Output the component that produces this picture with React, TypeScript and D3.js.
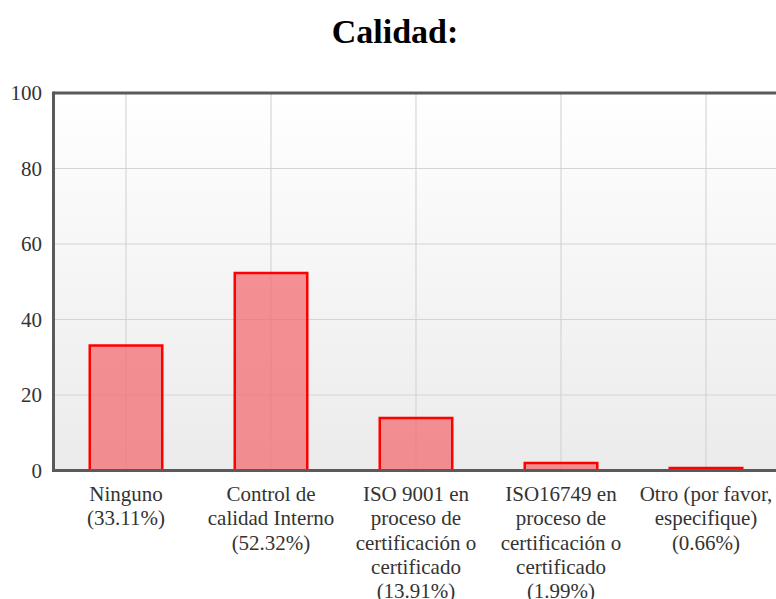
import { useEffect, useRef } from 'react';
import * as d3 from 'd3';

const categories = [
  ['Ninguno', '(33.11%)'],
  ['Control de', 'calidad Interno', '(52.32%)'],
  ['ISO 9001 en', 'proceso de', 'certificación o', 'certificado', '(13.91%)'],
  ['ISO16749 en', 'proceso de', 'certificación o', 'certificado', '(1.99%)'],
  ['Otro (por favor,', 'especifique)', '(0.66%)'],
];
const values = [33.11, 52.32, 13.91, 1.99, 0.66];
const yTicks = [0, 20, 40, 60, 80, 100];

export default function App() {
  const svgRef = useRef<SVGSVGElement>(null);

  useEffect(() => {
    const W = 776;
    const H = 599;
    const left = 53.5;
    const top = 93;
    const bottom = 470.5;
    const step = 145;

    const svg = d3.select(svgRef.current);
    svg.selectAll('*').remove();
    svg.attr('width', W).attr('height', H);

    const font = '"Liberation Serif", "Times New Roman", serif';

    // Title
    svg
      .append('text')
      .attr('x', 395)
      .attr('y', 43)
      .attr('text-anchor', 'middle')
      .style('font-family', font)
      .style('font-weight', 'bold')
      .style('font-size', '34px')
      .style('fill', '#000')
      .text('Calidad:');

    const idx = categories.map((_, i) => i);
    const x = d3
      .scaleBand<number>()
      .domain(idx)
      .range([left, left + step * categories.length])
      .padding(0);
    const y = d3.scaleLinear().domain([0, 100]).range([bottom, top]);

    // Background gradient
    const defs = svg.append('defs');
    const grad = defs
      .append('linearGradient')
      .attr('id', 'bg')
      .attr('x1', 0)
      .attr('y1', 0)
      .attr('x2', 0)
      .attr('y2', 1);
    grad.append('stop').attr('offset', '0%').attr('stop-color', '#ffffff');
    grad.append('stop').attr('offset', '100%').attr('stop-color', '#ebebeb');

    svg
      .append('rect')
      .attr('x', left)
      .attr('y', top)
      .attr('width', W - left + 10)
      .attr('height', bottom - top)
      .attr('fill', 'url(#bg)');

    // Horizontal grid
    svg
      .selectAll('.hgrid')
      .data(yTicks.filter((t) => t > 0 && t < 100))
      .enter()
      .append('line')
      .attr('x1', left)
      .attr('x2', W + 10)
      .attr('y1', (d) => y(d))
      .attr('y2', (d) => y(d))
      .attr('stroke', '#d4d4d4')
      .attr('stroke-width', 1);

    // Vertical grid at category centers
    svg
      .selectAll('.vgrid')
      .data(idx)
      .enter()
      .append('line')
      .attr('x1', (d) => x(d)! + x.bandwidth() / 2)
      .attr('x2', (d) => x(d)! + x.bandwidth() / 2)
      .attr('y1', top)
      .attr('y2', bottom)
      .attr('stroke', '#cfcfcf')
      .attr('stroke-width', 1);

    // Bars
    const bw = x.bandwidth() / 2;
    svg
      .selectAll('.bar')
      .data(values)
      .enter()
      .append('rect')
      .attr('x', (_, i) => x(i)! + x.bandwidth() / 2 - bw / 2)
      .attr('y', (d) => y(d))
      .attr('width', bw)
      .attr('height', (d) => bottom - y(d))
      .attr('fill', 'rgba(243, 110, 114, 0.75)')
      .attr('stroke', '#ff0000')
      .attr('stroke-width', 2.5);

    // Border lines (left, top, bottom)
    const border = '#5a5a5a';
    svg
      .append('line')
      .attr('x1', left)
      .attr('x2', left)
      .attr('y1', top - 1.5)
      .attr('y2', bottom + 1.5)
      .attr('stroke', border)
      .attr('stroke-width', 3);
    svg
      .append('line')
      .attr('x1', left)
      .attr('x2', W + 10)
      .attr('y1', top)
      .attr('y2', top)
      .attr('stroke', border)
      .attr('stroke-width', 3);
    svg
      .append('line')
      .attr('x1', left)
      .attr('x2', W + 10)
      .attr('y1', bottom)
      .attr('y2', bottom)
      .attr('stroke', border)
      .attr('stroke-width', 3);

    // Y tick labels
    svg
      .selectAll('.ytick')
      .data(yTicks)
      .enter()
      .append('text')
      .attr('x', 42)
      .attr('y', (d) => y(d) + 7)
      .attr('text-anchor', 'end')
      .style('font-family', font)
      .style('font-size', '21px')
      .style('fill', '#333')
      .text((d) => d);

    // Category labels
    const lab = svg
      .selectAll('.xlab')
      .data(categories)
      .enter()
      .append('text')
      .attr('text-anchor', 'middle')
      .style('font-family', font)
      .style('font-size', '21px')
      .style('fill', '#333');
    lab
      .selectAll('tspan')
      .data((d, i) => d.map((s) => ({ s, i })))
      .enter()
      .append('tspan')
      .attr('x', (d) => x(d.i)! + x.bandwidth() / 2)
      .attr('y', (_, j) => 501 + j * 24.3)
      .text((d) => d.s);
  }, []);

  return (
    <svg
      ref={svgRef}
      style={{ position: 'fixed', left: 0, top: 0, background: '#fff' }}
    ></svg>
  );
}
